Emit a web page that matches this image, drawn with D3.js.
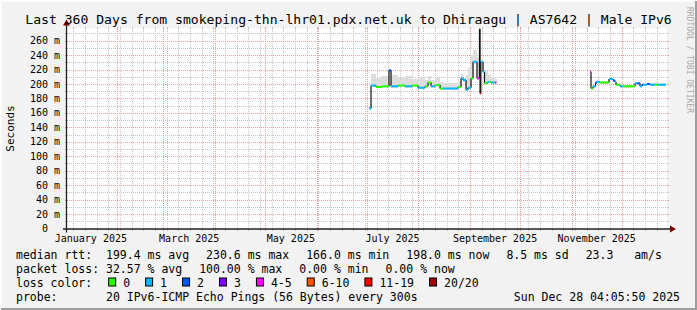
<!DOCTYPE html>
<html>
<head>
<meta charset="utf-8">
<script src="https://cdn.jsdelivr.net/npm/d3@7"></script>
<style>
  body { margin: 0; background: #f2f2f2; }
  svg { display: block; font-family: "DejaVu Sans Mono", monospace; }
  text { white-space: pre; }
</style>
</head>
<body>
<svg id="chart"></svg>
<script>
// ---- data ----
const medTimes = [
  "2025-07-02T09:00", "2025-07-03T14:00", "2025-07-06T14:00", "2025-07-10T04:00",
  "2025-07-14T09:00", "2025-07-15T14:00", "2025-07-19T19:00", "2025-07-24T00:00",
  "2025-07-28T04:00", "2025-07-31T19:00", "2025-08-05T00:00", "2025-08-06T19:00",
  "2025-08-08T14:00", "2025-08-11T00:00", "2025-08-14T00:00", "2025-08-15T19:00",
  "2025-08-24T19:00", "2025-08-26T14:00", "2025-08-27T19:00", "2025-08-29T14:00",
  "2025-08-30T19:00", "2025-09-01T14:00", "2025-09-02T19:00", "2025-09-05T04:00",
  "2025-09-06T16:00", "2025-09-07T00:00", "2025-09-07T11:00", "2025-09-08T19:00",
  "2025-09-09T16:00", "2025-09-11T12:00", "2025-09-12T16:00", "2025-09-13T14:00",
  "2025-09-16T00:00", "2025-09-16T21:00",
  "2025-11-12T00:00", "2025-11-12T14:00", "2025-11-13T19:00", "2025-11-15T07:00",
  "2025-11-16T04:00", "2025-11-18T00:00", "2025-11-23T09:00", "2025-11-25T19:00",
  "2025-11-27T00:00", "2025-11-27T14:00", "2025-11-30T00:00", "2025-12-01T19:00",
  "2025-12-09T00:00", "2025-12-10T04:00", "2025-12-12T00:00", "2025-12-13T04:00",
  "2025-12-14T02:00", "2025-12-16T04:00", "2025-12-18T00:00", "2025-12-21T00:00",
  "2025-12-22T19:00", "2025-12-27T14:00"
];
// median rtt in ms (null = end of a run of data)
const medValues = [
  166, 198, 196, 197,
  219, 197, 198, 197,
  198, 195, 197, 202,
  197, 198.7, 194, 194,
  196, 208, 205.6, 192,
  195, 208, 231, 208,
  277, 187, 231, 217,
  201, 203, 203, 202,
  202, null,
  217, 194, 197, 202,
  203, 202, 207, 205,
  203, 199, 197, 197,
  201, 201, 197, 199,
  199, 200, 199, 199,
  199, null
];
// loss class index (into lossLabels)
const lossClass = [
  1, 1, 0, 0,
  2, 1, 0, 1,
  0, 1, 0, 0,
  1, 0, 0, 1,
  0, 1, 1, 1,
  1, 0, 1, 4,
  0, 6, 1, 1,
  0, 1, 0, 1,
  4, null,
  4, 0, 1, 2,
  1, 0, 1, 2,
  1, 0, 1, 0,
  1, 2, 1, 2,
  1, 2, 1, 0,
  1, null
];
// smoke (spread of the pings) in ms
const smokeLo = [
  166, 196, 194, 195,
  217, 195, 196, 195,
  196, 193, 195, 199,
  195, 196, 192, 192,
  194, 205, 203, 190,
  193, 205, 228, 205,
  230, 185, 229, 215,
  199, 201, 201, 200,
  200, null,
  215, 192, 195, 200,
  201, 200, 205, 203,
  201, 197, 195, 195,
  199, 199, 195, 197,
  197, 198, 197, 197,
  197, null
];
const smokeHi = [
  168, 214, 209, 211,
  219, 212, 208, 211,
  207, 210, 206, 211,
  205, 209, 203, 202,
  204, 214, 208, 212,
  222, 240, 247, 238,
  232, 230, 232, 226,
  218, 212, 214, 208,
  207, null,
  219, 196, 199, 204,
  205, 204, 209, 207,
  205, 201, 199, 199,
  203, 203, 199, 201,
  201, 202, 201, 203,
  201, null
];

const lossLabels = ["0", "1", "2", "3", "4-5", "6-10", "11-19", "20/20"];
const lossColors = ["#26ff00", "#00b8ff", "#0059ff", "#7e00ff", "#ff00ff", "#ff5500", "#ff0000", "#a10000"];

const yMajor = [20, 40, 60, 80, 100, 120, 140, 160, 180, 200, 220, 240, 260];
const yLabels = ["20 m", "40 m", "60 m", "80 m", "100 m", "120 m", "140 m", "160 m", "180 m", "200 m", "220 m", "240 m", "260 m"];

const legendRtt = ["median rtt:  199.4 ms avg", "230.6 ms max", "166.0 ms min", "198.0 ms now", "8.5 ms sd", "23.3   am/s"];
const legendLoss = ["packet loss: 32.57 % avg", "100.00 % max", "0.00 % min", "0.00 % now"];
const probeText = "probe:       20 IPv6-ICMP Echo Pings (56 Bytes) every 300s";
const stampText = "Sun Dec 28 04:05:50 2025";
const titleText = "Last 360 Days from smokeping-thn-lhr01.pdx.net.uk to Dhiraagu | AS7642 | Male IPv6";

// ---- layout ----
const W = 697, H = 310;
const x0 = 67, x1 = 667, yTop = 28.5, yBot = 228.5;
const tStart = new Date(2025, 0, 2, 4, 5, 50), tEnd = new Date(2025, 11, 28, 4, 5, 50);
const yMax = 276.9;

const x = d3.scaleTime().domain([tStart, tEnd]).range([x0, x1]);
const y = d3.scaleLinear().domain([0, yMax]).range([yBot, yTop]);

const svg = d3.select("#chart").attr("width", W).attr("height", H);

// background and frame
svg.append("rect").attr("width", W).attr("height", H).attr("fill", "#f2f2f2");
svg.append("path").attr("d", `M1,${H} V1 H${W}`).attr("stroke", "#fdfdfd").attr("stroke-width", 2).attr("fill", "none");
svg.append("path").attr("d", `M1,${H-1} H${W-1} V1`).attr("stroke", "#9e9e9e").attr("stroke-width", 2).attr("fill", "none");

// canvas
svg.append("rect").attr("x", x0).attr("y", yTop).attr("width", x1 - x0).attr("height", yBot - yTop).attr("fill", "#ffffff");

const grid = svg.append("g").attr("shape-rendering", "crispEdges");
const px = v => Math.round(v) + 0.5;

// grid lines, dotted inside the canvas, short solid ticks outside
const yMinor = d3.range(10, yMax, 10).filter(v => v % 20 !== 0);
function hGrid(vals, col) {
  grid.append("g").selectAll("line").data(vals).join("line")
    .attr("x1", x0).attr("x2", x1)
    .attr("y1", d => px(y(d))).attr("y2", d => px(y(d)))
    .attr("stroke", col).attr("stroke-dasharray", "1,1");
  grid.append("g").selectAll("path").data(vals).join("path")
    .attr("d", d => `M${x0 - 2},${px(y(d))}H${x0}M${x1},${px(y(d))}H${x1 + 2}`)
    .attr("stroke", col);
}
function vGrid(vals, col) {
  grid.append("g").selectAll("line").data(vals).join("line")
    .attr("x1", d => px(x(d))).attr("x2", d => px(x(d)))
    .attr("y1", yTop).attr("y2", yBot)
    .attr("stroke", col).attr("stroke-dasharray", "1,1");
  grid.append("g").selectAll("path").data(vals).join("path")
    .attr("d", d => `M${px(x(d))},${yTop - 2}V${yTop}M${px(x(d))},${yBot}V${yBot + 2}`)
    .attr("stroke", col);
}
hGrid(yMinor, "#c4c4c4");
vGrid(d3.timeMonday.range(tStart, tEnd), "#c4c4c4");
hGrid(yMajor, "#f09c9c");
vGrid(d3.timeMonth.range(tStart, tEnd), "#f09c9c");

// data
const pts = medTimes.map((t, i) => ({
  t: new Date(t), v: medValues[i], c: lossClass[i], lo: smokeLo[i], hi: smokeHi[i]
}));
const steps = pts.slice(0, -1).map((d, i) => ({ ...d, t2: pts[i + 1].t, next: pts[i + 1] }))
  .filter(d => d.v != null);

svg.append("clipPath").attr("id", "clip").append("rect")
  .attr("x", x0).attr("y", yTop).attr("width", x1 - x0).attr("height", yBot - yTop);
const plot = svg.append("g").attr("clip-path", "url(#clip)");

// smoke
plot.append("g").attr("shape-rendering", "crispEdges")
  .selectAll("rect").data(steps).join("rect")
  .attr("x", d => x(d.t)).attr("width", d => x(d.t2) - x(d.t))
  .attr("y", d => y(d.hi)).attr("height", d => y(d.lo) - y(d.hi))
  .attr("fill", "#dddddd");

// median: dark steps, coloured by loss
plot.append("g").selectAll("line").data(steps.filter(d => d.next.v != null)).join("line")
  .attr("x1", d => x(d.t2)).attr("x2", d => x(d.t2))
  .attr("y1", d => y(d.v)).attr("y2", d => y(d.next.v))
  .attr("stroke", "#111").attr("stroke-width", 1.2);

plot.append("g").selectAll("line").data(steps).join("line")
  .attr("x1", d => x(d.t)).attr("x2", d => x(d.t2))
  .attr("y1", d => y(d.v)).attr("y2", d => y(d.v))
  .attr("stroke", d => lossColors[d.c]).attr("stroke-width", 2);

// axes
const axisCol = "#202020", arrowCol = "#800000";
svg.append("line").attr("x1", x0 - 4).attr("x2", x1 + 5).attr("y1", yBot + 0.5).attr("y2", yBot + 0.5)
  .attr("stroke", axisCol).attr("stroke-width", 1.3);
svg.append("line").attr("x1", x0 - 0.5).attr("x2", x0 - 0.5).attr("y1", yBot + 4).attr("y2", yTop - 5)
  .attr("stroke", axisCol).attr("stroke-width", 1.3);
svg.append("path").attr("d", `M${x1 + 3},${yBot - 3}L${x1 + 9},${yBot + 0.5}L${x1 + 3},${yBot + 4}Z`).attr("fill", arrowCol);
svg.append("path").attr("d", `M${x0 - 4},${yTop - 3}L${x0 - 0.5},${yTop - 9}L${x0 + 3},${yTop - 3}Z`).attr("fill", arrowCol);

// y labels
const yl = svg.append("g").attr("font-size", 10).attr("fill", "#000");
yl.selectAll("text").data(yMajor).join("text")
  .attr("x", 60).attr("y", d => y(d) + 3.5).attr("text-anchor", "end")
  .text((d, i) => yLabels[i]);
yl.append("text").attr("x", 48).attr("y", y(0) + 3.5).attr("text-anchor", "end").text("0");

// x labels, centred in the month
const labelMonths = d3.timeMonth.every(2).range(new Date(2025, 0, 1), tEnd);
svg.append("g").attr("font-size", 10).selectAll("text").data(labelMonths).join("text")
  .attr("x", d => x(new Date((+d + +d3.timeMonth.offset(d, 1)) / 2)))
  .attr("y", 242).attr("text-anchor", "middle")
  .text(d => d3.timeFormat("%B %Y")(d));

// titles
svg.append("text").attr("x", W / 2).attr("y", 23.5).attr("text-anchor", "middle")
  .attr("font-size", 13.1).text(titleText);
svg.append("text").attr("transform", `translate(14,${(yTop + yBot) / 2}) rotate(-90)`)
  .attr("text-anchor", "middle").attr("font-size", 11).text("Seconds");
svg.append("text").attr("transform", `translate(687,60) rotate(90)`)
  .attr("text-anchor", "middle").attr("font-size", 8).attr("fill", "#a8a8a8")
  .text("RRDTOOL / TOBI OETIKER");

// legend
const lg = svg.append("g").attr("font-size", 11.5).attr("fill", "#000");
const gap = 17;
function row(items, yb) {
  let cx = 16;
  items.forEach(s => {
    const t = lg.append("text").attr("x", cx).attr("y", yb).text(s);
    cx += t.node().getComputedTextLength() + gap;
  });
}
row(legendRtt, 259);
row(legendLoss, 272.5);

const lossRowY = 286.5;
const lt = lg.append("text").attr("x", 16).attr("y", lossRowY).text("loss color:");
let cx = 16 + lt.node().getComputedTextLength() + 16;
lossLabels.forEach((lab, i) => {
  lg.append("rect").attr("x", cx + 0.5).attr("y", lossRowY - 8.5).attr("width", 7).attr("height", 8)
    .attr("fill", lossColors[i]).attr("stroke", "#000").attr("stroke-width", 1);
  const t = lg.append("text").attr("x", cx + 15).attr("y", lossRowY).text(lab);
  cx += 15 + t.node().getComputedTextLength() + 15;
});

lg.append("text").attr("x", 16).attr("y", 300.5).text(probeText);
lg.append("text").attr("x", 680).attr("y", 300.5).attr("text-anchor", "end").text(stampText);
</script>
</body>
</html>
